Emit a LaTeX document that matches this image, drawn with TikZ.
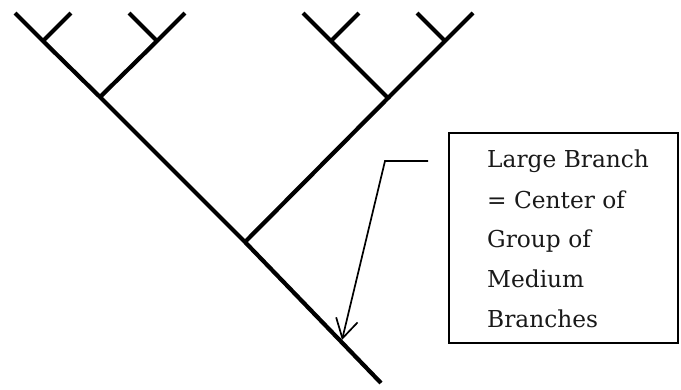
\documentclass[tikz,border=0pt]{standalone}
\usepackage{fontspec}
\setmainfont{DejaVu Serif}
\usetikzlibrary{arrows.meta}
\begin{document}
\begin{tikzpicture}[x=1pt,y=-1pt,
  branch/.style={line width=4.2pt,line cap=butt,line join=miter},
  labelbox/.style={draw,line width=2.4pt,inner sep=0pt},
  pointer/.style={line width=1.7pt,-{Straight Barb[length=19pt,width=22pt,line width=1.7pt]}},
  labelline/.style={anchor=base west,inner sep=0pt,font=\fontsize{23.3}{27}\selectfont,text=black!90}]
\useasboundingbox (0,0) rectangle (681,389);

% trunk and forks
\coordinate (root) at (381,383);
\coordinate (big) at (245,242);
\coordinate (medL) at (100,97);
\coordinate (medR) at (388,98);
\coordinate (s1) at (43,41);
\coordinate (s2) at (157,41);
\coordinate (s3) at (331,41);
\coordinate (s4) at (445,41);
\coordinate (t1) at (15,13);
\coordinate (t2) at (71,13);
\coordinate (t3) at (129,13);
\coordinate (t4) at (185,13);
\coordinate (t5) at (303,13);
\coordinate (t6) at (359,13);
\coordinate (t7) at (417,13);
\coordinate (t8) at (473,13);

% main line from the lowest point up to the leftmost twig
\draw[branch] (root) -- (big) -- (medL) -- (s1) -- (t1);
% large branch
\draw[branch] (big) -- (medR) -- (s3) -- (t5);
% medium branches
\draw[branch] (medL) -- (s2) -- (t4);
\draw[branch] (medR) -- (s4) -- (t8);
% small twigs
\draw[branch] (s1) -- (t2);
\draw[branch] (s2) -- (t3);
\draw[branch] (s3) -- (t6);
\draw[branch] (s4) -- (t7);

% explanation box
\node[labelbox,minimum width=229pt,minimum height=210pt,anchor=north west] (box) at (448,132) {};
\node[labelline] (l1) at (487,167) {Large Branch};
\node[labelline] (l2) at (487,208) {= Center of};
\node[labelline] (l3) at (487,247) {Group of};
\node[labelline] (l4) at (487,287) {Medium};
\node[labelline] (l5) at (487,327) {Branches};

% pointer to the large branch junction
\coordinate (ptail) at (428,161);
\coordinate (pbend) at (385,161);
\coordinate (ptip) at (342,340);
\draw[pointer] (ptail) -- (pbend) -- (ptip);
\end{tikzpicture}
\end{document}
